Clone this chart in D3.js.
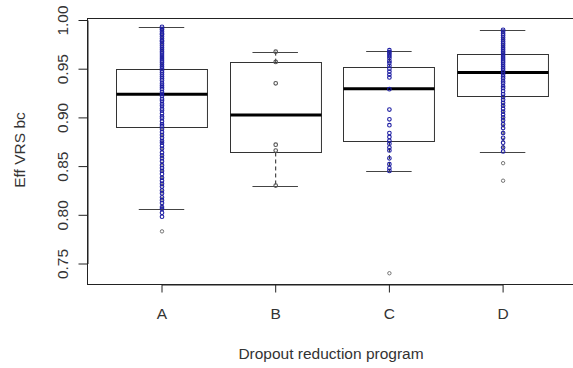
<!DOCTYPE html>
<html>
<head>
<meta charset="utf-8">
<script src="https://cdnjs.cloudflare.com/ajax/libs/d3/7.8.5/d3.min.js"></script>
<style>
  body { margin: 0; background: #fff; }
  svg { display: block; font-family: "Liberation Sans", Arial, sans-serif; }
</style>
</head>
<body>
<svg class="boxplot" width="573" height="368"></svg>
<script>
// programs on the x axis
var programs = ['A', 'B', 'C', 'D']

// box statistics per program (lower whisker, Q1, median, Q3, upper whisker)
var whiskerLow = [0.806, 0.830, 0.845, 0.864]
var q1 = [0.8905, 0.864, 0.8758, 0.9223]
var median = [0.9237, 0.9025, 0.9295, 0.946]
var q3 = [0.950, 0.957, 0.952, 0.965]
var whiskerHigh = [0.9925, 0.9675, 0.9685, 0.990]

// values beyond the whiskers
var outliers = [[0.783], [], [0.740], [0.853, 0.835]]

// individual efficiency scores per program
var pointsA = [0.993, 0.991, 0.990, 0.988, 0.986, 0.985, 0.983, 0.981, 0.979, 0.978,
  0.976, 0.974, 0.972, 0.970, 0.968, 0.966, 0.964, 0.962, 0.960, 0.958, 0.956, 0.954,
  0.952, 0.950, 0.948, 0.946, 0.944, 0.942, 0.940, 0.938, 0.935, 0.933, 0.931, 0.929,
  0.926, 0.924, 0.922, 0.919, 0.917, 0.914, 0.912, 0.909, 0.907, 0.904, 0.901, 0.899,
  0.896, 0.893, 0.891, 0.888, 0.885, 0.882, 0.879, 0.876, 0.874, 0.871, 0.868, 0.864,
  0.861, 0.858, 0.855, 0.851, 0.848, 0.845, 0.842, 0.838, 0.835, 0.832, 0.829, 0.825,
  0.822, 0.818, 0.815, 0.812, 0.808, 0.806, 0.802, 0.798]
var pointsB = [0.9675, 0.957, 0.935, 0.872, 0.866, 0.830]
var pointsC = [0.969, 0.967, 0.965, 0.963, 0.961, 0.958, 0.956, 0.953, 0.950, 0.947,
  0.944, 0.941, 0.929, 0.908, 0.898, 0.892, 0.884, 0.880, 0.876, 0.873, 0.869, 0.866,
  0.858, 0.852, 0.848, 0.845]
var pointsD = [0.990, 0.988, 0.986, 0.984, 0.982, 0.980, 0.978, 0.976, 0.974, 0.972,
  0.970, 0.968, 0.966, 0.964, 0.962, 0.960, 0.958, 0.956, 0.954, 0.952, 0.950, 0.948,
  0.946, 0.944, 0.942, 0.940, 0.937, 0.935, 0.932, 0.930, 0.927, 0.924, 0.921, 0.918,
  0.915, 0.912, 0.909, 0.906, 0.903, 0.900, 0.897, 0.893, 0.889, 0.884, 0.879, 0.874,
  0.869, 0.865]
var points = [pointsA, pointsB, pointsC, pointsD]
var pointColor = ['#1f1fa3', '#555', '#1f1fa3', '#1f1fa3']

var yTicks = [0.75, 0.80, 0.85, 0.90, 0.95, 1.00]

const svg = d3.select('.boxplot')
const plot = { left: 87, top: 18, bottom: 284 }

const yScale = d3
  .scaleLinear()
  .domain([0.75, 1.0])
  .range([263.5, 20])

const xScale = d3
  .scalePoint()
  .domain(programs)
  .range([161.5, 502.6])

const step = xScale.step()
const boxW = 0.8 * step
const capW = 0.4 * step

// plot frame (right side runs off the canvas)
svg
  .append('rect')
  .attr('x', plot.left + 0.5)
  .attr('y', plot.top + 0.5)
  .attr('width', 4.32 * step)
  .attr('height', plot.bottom - plot.top)
  .attr('fill', 'none')
  .attr('stroke', '#222')
  .attr('stroke-width', 1)

// y axis
const yAxis = svg
  .append('g')
  .attr('transform', `translate(${plot.left + 0.5}, 0)`)
  .call(
    d3
      .axisLeft(yScale)
      .tickValues(yTicks)
      .tickFormat(d3.format('.2f'))
      .tickSize(9)
      .tickSizeOuter(0)
  )
yAxis.select('.domain').attr('stroke', '#222')
yAxis.selectAll('.tick line').attr('stroke', '#222')
yAxis
  .selectAll('.tick text')
  .attr('transform', 'rotate(-90)')
  .attr('x', 0)
  .attr('y', -20)
  .attr('dy', 0)
  .attr('text-anchor', 'middle')
  .attr('fill', '#333')
  .style('font-size', '15.5px')

// x axis
const xAxis = svg
  .append('g')
  .attr('transform', `translate(0, ${plot.bottom + 0.5})`)
  .call(d3.axisBottom(xScale).tickSize(8).tickSizeOuter(0))
xAxis.select('.domain').attr('stroke', '#222')
xAxis.selectAll('.tick line').attr('stroke', '#222')
xAxis
  .selectAll('.tick text')
  .attr('y', 34)
  .attr('dy', 0)
  .attr('fill', '#333')
  .style('font-size', '15.5px')

// boxes
const boxes = svg
  .selectAll('.box')
  .data(programs)
  .enter()
  .append('g')
  .attr('class', 'box')

// dashed whiskers
boxes
  .append('line')
  .attr('x1', d => xScale(d) + 0.5)
  .attr('x2', d => xScale(d) + 0.5)
  .attr('y1', (d, i) => yScale(whiskerHigh[i]))
  .attr('y2', (d, i) => yScale(q3[i]))
  .attr('stroke', '#222')
  .attr('stroke-dasharray', '4,3')
boxes
  .append('line')
  .attr('x1', d => xScale(d) + 0.5)
  .attr('x2', d => xScale(d) + 0.5)
  .attr('y1', (d, i) => yScale(q1[i]))
  .attr('y2', (d, i) => yScale(whiskerLow[i]))
  .attr('stroke', '#222')
  .attr('stroke-dasharray', '4,3')

// whisker caps
;[whiskerLow, whiskerHigh].forEach(function(arr) {
  boxes
    .append('line')
    .attr('x1', d => xScale(d) - capW / 2)
    .attr('x2', d => xScale(d) + capW / 2)
    .attr('y1', (d, i) => Math.round(yScale(arr[i])) + 0.5)
    .attr('y2', (d, i) => Math.round(yScale(arr[i])) + 0.5)
    .attr('stroke', '#444')
})

boxes
  .append('rect')
  .attr('x', d => Math.round(xScale(d) - boxW / 2) + 0.5)
  .attr('y', (d, i) => Math.round(yScale(q3[i])) + 0.5)
  .attr('width', boxW)
  .attr('height', (d, i) => Math.round(yScale(q1[i])) - Math.round(yScale(q3[i])))
  .attr('fill', 'none')
  .attr('stroke', '#333')

// median
boxes
  .append('line')
  .attr('x1', d => Math.round(xScale(d) - boxW / 2) + 0.5)
  .attr('x2', d => Math.round(xScale(d) - boxW / 2) + 0.5 + boxW)
  .attr('y1', (d, i) => yScale(median[i]))
  .attr('y2', (d, i) => yScale(median[i]))
  .attr('stroke', '#000')
  .attr('stroke-width', 3)

// outliers
boxes.each(function(d, i) {
  d3.select(this)
    .selectAll('.outlier')
    .data(outliers[i])
    .enter()
    .append('circle')
    .attr('class', 'outlier')
    .attr('cx', xScale(d) + 0.5)
    .attr('cy', v => yScale(v))
    .attr('r', 1.7)
    .attr('fill', 'none')
    .attr('stroke', '#666')
    .attr('stroke-width', 0.9)
})

// strip of individual scores
boxes.each(function(d, i) {
  d3.select(this)
    .selectAll('.pt')
    .data(points[i])
    .enter()
    .append('circle')
    .attr('class', 'pt')
    .attr('cx', xScale(d) + 0.5)
    .attr('cy', v => yScale(v))
    .attr('r', 1.8)
    .attr('fill', 'none')
    .attr('stroke', pointColor[i])
    .attr('stroke-width', 1.1)
})

// axis titles
svg
  .append('text')
  .attr('transform', 'translate(25, 150) rotate(-90)')
  .attr('text-anchor', 'middle')
  .attr('fill', '#333')
  .style('font-size', '15.5px')
  .text('Eff VRS bc')

svg
  .append('text')
  .attr('x', 331)
  .attr('y', 359)
  .attr('text-anchor', 'middle')
  .attr('fill', '#333')
  .style('font-size', '15.5px')
  .text('Dropout reduction program')
</script>
</body>
</html>
